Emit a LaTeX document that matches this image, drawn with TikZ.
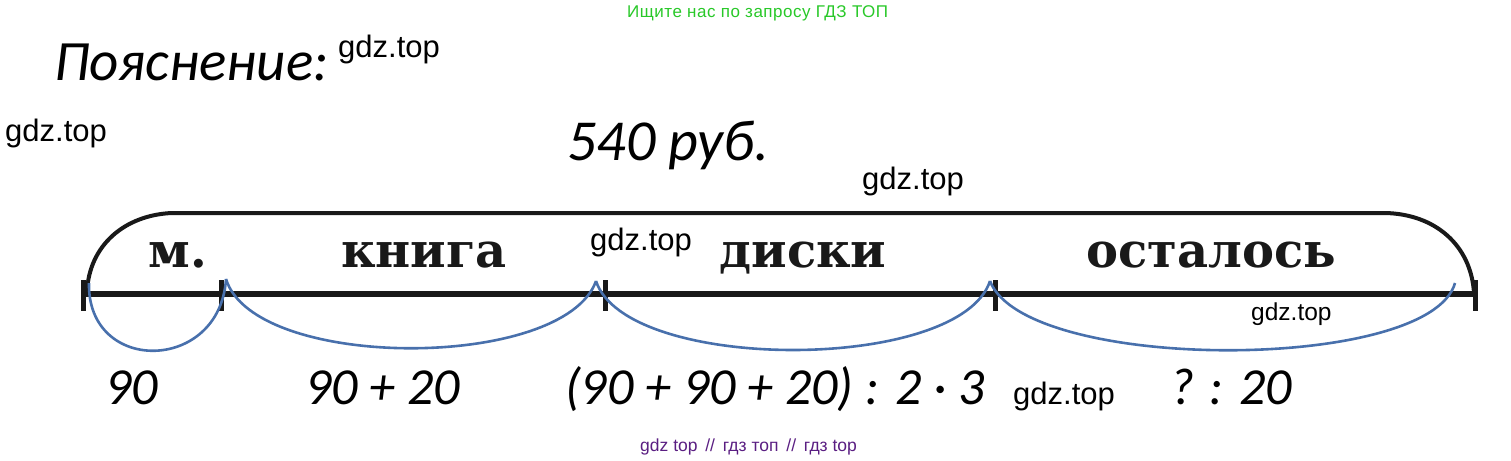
\documentclass[tikz,border=0pt]{standalone}
\usepackage{fontspec}
\usetikzlibrary{calc}
\setmainfont{Liberation Sans}
\newfontfamily\hand{Carlito}
\newfontfamily\ari{Liberation Sans}
\newfontfamily\book{DejaVu Serif}
\definecolor{wmgreen}{RGB}{40,200,40}
\definecolor{wmpurple}{RGB}{90,30,130}
\definecolor{arcblue}{RGB}{72,112,172}
\definecolor{ink}{RGB}{25,25,25}
\tikzset{
  txt/.style={inner sep=0pt, anchor=base west},
  wm/.style={txt, font=\ari\fontsize{31}{36}\selectfont},
  wmsmall/.style={txt, font=\ari\fontsize{24.5}{28}\selectfont},
  hw/.style={txt, font=\hand\itshape\fontsize{52}{60}\selectfont},
  seg/.style={txt, anchor=base, text=ink, font=\book\bfseries\fontsize{48}{56}\selectfont},
  tick/.style={line width=5pt, ink},
  mainline/.style={line width=6pt, ink},
  brace/.style={line width=4pt, ink},
  arcline/.style={line width=2.6pt, arcblue},
}
\begin{document}
\begin{tikzpicture}[x=1pt,y=-1pt]
\useasboundingbox (0,0) rectangle (1511,460);
% watermarks and headings
\node[txt, text=wmgreen, font=\ari\fontsize{17}{20}\selectfont] (top) at (627,18) {\addfontfeature{LetterSpace=3}Ищите нас по запросу ГДЗ ТОП};
\node[txt, font=\hand\itshape\fontsize{57}{66}\selectfont] (title) at (54,80) {Пояснение:};
\node[wm] (w1) at (338,58) {gdz.top};
\node[wm] (w2) at (5,141) {gdz.top};
\node[txt, font=\hand\itshape\fontsize{58}{68}\selectfont] (total) at (567,160) {540 руб.};
\node[wm] (w3) at (862,189) {gdz.top};
% segment line
\coordinate (t0) at (83,294);
\coordinate (t1) at (221,294);
\coordinate (t2) at (605,294);
\coordinate (t3) at (995,294);
\coordinate (t4) at (1475,294);
\draw[mainline] (t0) -- (t4);
\foreach \t in {t0,t1,t2,t3,t4}{
  \draw[tick] ($(\t)+(0,-14)$) -- ($(\t)+(0,17)$);
}
% brace over whole
\coordinate (bl) at (87,292);
\coordinate (bla) at (172,213);
\coordinate (bra) at (1385,213);
\coordinate (br) at (1474,293);
\draw[brace] (bl) .. controls (89,245) and (125,215) .. (bla) -- (bra) .. controls (1435,214) and (1471,245) .. (br);
% segment names
\node[seg] (m) at (178,267) {м.};
\node[seg] (kn) at (424,267) {книга};
\node[seg] (di) at (803,267) {диски};
\node[seg] (os) at (1211,267) {осталось};
\node[wm] (w4) at (590,250) {gdz.top};
\node[wmsmall] (w5) at (1251,320) {gdz.top};
% blue arcs
\coordinate (a0) at (89,283);
\coordinate (a1) at (226,279);
\coordinate (a2) at (596,281);
\coordinate (a3) at (990,281);
\coordinate (a4) at (1455,283);
\draw[arcline] (a0) .. controls +(-2,92) and +(-6,94) .. (a1);
\draw[arcline] (a1) .. controls +(28,92) and +(-32,90) .. (a2);
\draw[arcline] (a2) .. controls +(30,92) and +(-30,92) .. (a3);
\draw[arcline] (a3) .. controls +(35,92) and +(-25,90) .. (a4);
% formulas
\node[hw] (f1) at (105,404) {90};
\node[hw] (f2) at (305,404) {90 + 20};
\node[hw] (f3) at (565,404) {(90 + 90 + 20) : 2 · 3};
\node[hw] (f4) at (1170,404) {? : 20};
\node[wm] (w6) at (1013,404) {gdz.top};
\node[txt, text=wmpurple, font=\ari\fontsize{17.5}{20}\selectfont] (bot) at (640,451) {gdz top \,//\, гдз топ \,//\, гдз top};
\end{tikzpicture}
\end{document}
